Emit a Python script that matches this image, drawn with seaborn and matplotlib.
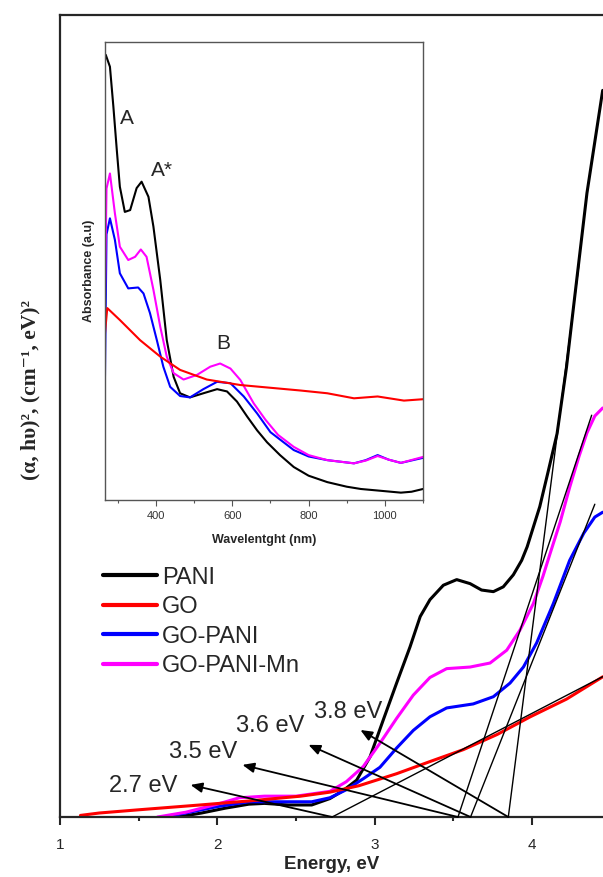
import numpy as np
import pandas as pd
import matplotlib
matplotlib.use("Agg")
import matplotlib.pyplot as plt
from matplotlib.ticker import MultipleLocator, NullLocator
from matplotlib.lines import Line2D
import seaborn as sns

# ---- main plot data: (alpha h nu)^2 vs energy ----
pani_e = [1.75, 1.9, 2.05, 2.2, 2.3, 2.45, 2.6, 2.716, 2.80, 2.886, 2.971, 3.055, 3.14, 3.225,
          3.29, 3.352, 3.437, 3.522, 3.607, 3.68, 3.755, 3.818, 3.882, 3.935, 3.97, 4.05,
          4.10, 4.16, 4.22, 4.27, 4.35, 4.45]
pani_y = [0.0, 0.5, 1.1, 1.6, 1.7, 1.5, 1.5, 2.3, 3.3, 4.6, 7.5, 12.1, 16.7, 21.2,
          25.0, 27.1, 28.9, 29.6, 29.1, 28.3, 28.1, 28.7, 30.2, 32.0, 33.7, 38.7,
          42.8, 47.8, 56.1, 64.5, 77.8, 90.6]

go_e = [1.13, 1.25, 1.5, 1.89, 2.2, 2.53, 2.716, 2.9, 3.14, 3.35, 3.564, 3.78, 3.99, 4.22, 4.452]
go_y = [0.2, 0.5, 0.9, 1.5, 2.0, 2.6, 3.1, 3.9, 5.4, 6.9, 8.4, 10.3, 12.5, 14.7, 17.5]

gopani_e = [1.65, 1.8, 2.0, 2.2, 2.4, 2.6, 2.716, 2.82, 2.93, 3.034, 3.14, 3.246, 3.352,
            3.458, 3.627, 3.755, 3.861, 3.946, 4.03, 4.136, 4.24, 4.33, 4.40, 4.45]
gopani_y = [0.0, 0.5, 1.3, 1.9, 1.9, 1.9, 2.4, 3.4, 4.8, 6.2, 8.6, 10.8, 12.5,
            13.6, 14.1, 15.0, 16.7, 18.7, 21.7, 26.6, 32.0, 35.4, 37.4, 38.0]

gopanimn_e = [1.62, 1.8, 2.0, 2.14, 2.3, 2.5, 2.716, 2.82, 2.928, 3.034, 3.14, 3.246, 3.352,
              3.458, 3.607, 3.734, 3.84, 3.924, 4.009, 4.07, 4.11, 4.18, 4.24, 4.30, 4.35,
              4.40, 4.45]
gopanimn_y = [0.0, 0.6, 1.6, 2.4, 2.6, 2.6, 3.2, 4.4, 6.3, 9.2, 12.3, 15.2, 17.4,
              18.5, 18.7, 19.2, 20.8, 23.3, 26.6, 30.0, 32.5, 36.8, 41.1, 45.0, 47.9,
              50.0, 51.0]

# tangent lines (band-gap extrapolation)
gap_labels = ["2.7 eV", "3.5 eV", "3.6 eV", "3.8 eV"]
gap_e0 = [2.73, 3.53, 3.61, 3.85]
tan_e1 = [4.45, 4.38, 4.40, 4.30]
tan_y1 = [17.5, 50.1, 39.0, 69.0]
arrow_head_e = [1.83, 2.16, 2.58, 2.91]
arrow_head_y = [4.0, 6.5, 9.0, 10.85]
label_e = [1.53, 1.91, 2.335, 2.83]
label_y = [3.9, 8.1, 11.35, 13.1]

# ---- inset data: absorbance vs wavelength ----
pani_nm = [266, 268, 279, 288, 297, 305, 318, 332, 349, 362, 380, 393, 411, 428, 446, 463,
           489, 524, 560, 586, 612, 639, 665, 691, 725, 761, 800, 849, 900, 937, 990, 1042,
           1070, 1100]
pani_abs = [97.0, 97.2, 94.6, 85.9, 76.4, 68.4, 62.9, 63.3, 68.1, 69.5, 66.2, 59.7, 48.0,
            34.9, 26.9, 23.3, 22.4, 23.3, 24.2, 23.7, 21.5, 18.2, 15.2, 12.6, 9.8, 7.2, 5.3,
            3.9, 2.9, 2.4, 2.0, 1.6, 1.8, 2.4]

go_nm = [266, 272, 305, 358, 411, 463, 533, 621, 700, 779, 849, 919, 981, 1050, 1100]
go_abs = [36.4, 41.9, 39.3, 34.9, 31.3, 28.4, 26.3, 25.1, 24.5, 23.9, 23.3, 22.2, 22.6, 21.7, 22.0]

gopani_nm = [266, 270, 279, 292, 305, 327, 353, 367, 384, 402, 419, 437, 463, 489, 524, 560,
             595, 630, 665, 700, 761, 800, 849, 919, 950, 981, 1010, 1042, 1100]
gopani_abs = [27.0, 58.0, 61.5, 56.8, 49.5, 46.2, 46.4, 45.1, 40.8, 34.9, 29.1, 24.7, 22.7,
              22.4, 24.2, 25.8, 25.5, 22.6, 18.9, 14.8, 10.9, 9.5, 8.7, 8.0, 8.7, 9.8, 8.8,
              8.1, 9.2]

gopanimn_nm = [266, 270, 279, 292, 305, 327, 345, 360, 375, 393, 411, 428, 446, 472, 507,
               542, 568, 595, 621, 656, 687, 720, 761, 800, 849, 919, 950, 981, 1010, 1042, 1100]
gopanimn_abs = [45.0, 68.0, 71.3, 62.6, 55.3, 52.4, 53.1, 54.7, 53.1, 45.9, 37.8, 31.3, 27.7,
                26.3, 27.3, 29.1, 29.8, 28.7, 26.2, 21.1, 17.5, 14.2, 11.6, 9.8, 8.7, 8.0,
                8.6, 9.6, 8.8, 8.1, 9.4]

peak_labels = ["A", "A*", "B"]
peak_nm = [323, 415, 577]
peak_abs = [83.3, 72.0, 34.2]

names = ["PANI", "GO", "GO-PANI", "GO-PANI-Mn"]
colors = {"PANI": "black", "GO": "#ff0000", "GO-PANI": "#0000ff", "GO-PANI-Mn": "#ff00ff"}

main_df = pd.concat([
    pd.DataFrame({"E": pani_e, "Y": pani_y, "sample": "PANI"}),
    pd.DataFrame({"E": go_e, "Y": go_y, "sample": "GO"}),
    pd.DataFrame({"E": gopani_e, "Y": gopani_y, "sample": "GO-PANI"}),
    pd.DataFrame({"E": gopanimn_e, "Y": gopanimn_y, "sample": "GO-PANI-Mn"}),
])
inset_df = pd.concat([
    pd.DataFrame({"nm": pani_nm, "A": pani_abs, "sample": "PANI"}),
    pd.DataFrame({"nm": go_nm, "A": go_abs, "sample": "GO"}),
    pd.DataFrame({"nm": gopani_nm, "A": gopani_abs, "sample": "GO-PANI"}),
    pd.DataFrame({"nm": gopanimn_nm, "A": gopanimn_abs, "sample": "GO-PANI-Mn"}),
])

sns.set_style("ticks")
plt.rcParams["font.family"] = ["Liberation Sans", "DejaVu Sans"]

fig = plt.figure(figsize=(6.03, 8.77), dpi=100)
ax = fig.add_axes([0.0995, 0.0684, 0.9005, 0.9145])

draw_order = ["PANI", "GO-PANI", "GO-PANI-Mn", "GO"]
for s in draw_order:
    sns.lineplot(data=main_df[main_df["sample"] == s], x="E", y="Y", color=colors[s],
                 lw=2.2, estimator=None, sort=False, ax=ax, legend=False)

for i in range(len(gap_e0)):
    ax.plot([gap_e0[i], tan_e1[i]], [0, tan_y1[i]], color="black", lw=1.0, zorder=3)
    ax.annotate("", xy=(arrow_head_e[i], arrow_head_y[i]), xytext=(gap_e0[i], 0),
                arrowprops=dict(arrowstyle="-|>,head_length=0.7,head_width=0.3",
                                color="black", lw=1.3, shrinkA=0, shrinkB=0))
    ax.text(label_e[i], label_y[i], gap_labels[i], fontsize=17, ha="center", va="center")

ax.set_xlim(1, 4.452)
ax.set_ylim(0, 100)
ax.xaxis.set_major_locator(MultipleLocator(1))
ax.xaxis.set_minor_locator(MultipleLocator(0.5))
ax.yaxis.set_major_locator(NullLocator())
ax.tick_params(axis="x", which="major", direction="out", length=6, width=1.5, labelsize=11, pad=9)
ax.tick_params(axis="x", which="minor", direction="out", length=3, width=1.5)
for side in ["left", "top", "bottom"]:
    ax.spines[side].set_linewidth(1.6)
ax.spines["right"].set_visible(False)
ax.set_xlabel("Energy, eV", fontsize=13.5, fontweight="bold", labelpad=3)
ax.set_ylabel("(α, hυ)², (cm⁻¹, eV)²", fontsize=15.5, fontweight="bold",
              family=["Liberation Serif", "DejaVu Serif"])
ax.yaxis.set_label_coords(-0.036, 0.532)

handles = [Line2D([], [], color=colors[n], lw=3) for n in names]
ax.legend(handles, names, loc="upper left", bbox_to_anchor=(0.062, 0.324), frameon=False,
          fontsize=17, handlelength=2.3, handletextpad=0.2, labelspacing=0.32,
          borderaxespad=0)

# ---- inset ----
ins = fig.add_axes([0.1741, 0.4299, 0.5274, 0.5222])
for s in draw_order:
    sns.lineplot(data=inset_df[inset_df["sample"] == s], x="nm", y="A", color=colors[s],
                 lw=1.5, estimator=None, sort=False, ax=ins, legend=False)
for i in range(len(peak_labels)):
    ins.text(peak_nm[i], peak_abs[i], peak_labels[i], fontsize=15, ha="center", va="center")
ins.set_xlim(266, 1100)
ins.set_ylim(0, 100)
ins.xaxis.set_major_locator(MultipleLocator(200))
ins.xaxis.set_minor_locator(MultipleLocator(100))
ins.yaxis.set_major_locator(NullLocator())
ins.tick_params(axis="x", which="major", direction="out", length=4, width=0.8,
                color="#555555", labelsize=8, labelcolor="#333333", pad=4)
ins.tick_params(axis="x", which="minor", direction="out", length=2.5, width=0.8, color="#555555")
for side in ins.spines:
    ins.spines[side].set_color("#555555")
    ins.spines[side].set_linewidth(1.0)
ins.set_xlabel("Wavelentght (nm)", fontsize=9, fontweight="bold", labelpad=9)
ins.set_ylabel("Absorbance (a.u)", fontsize=9, fontweight="bold", labelpad=7)

fig.savefig("out.png", dpi=100)
